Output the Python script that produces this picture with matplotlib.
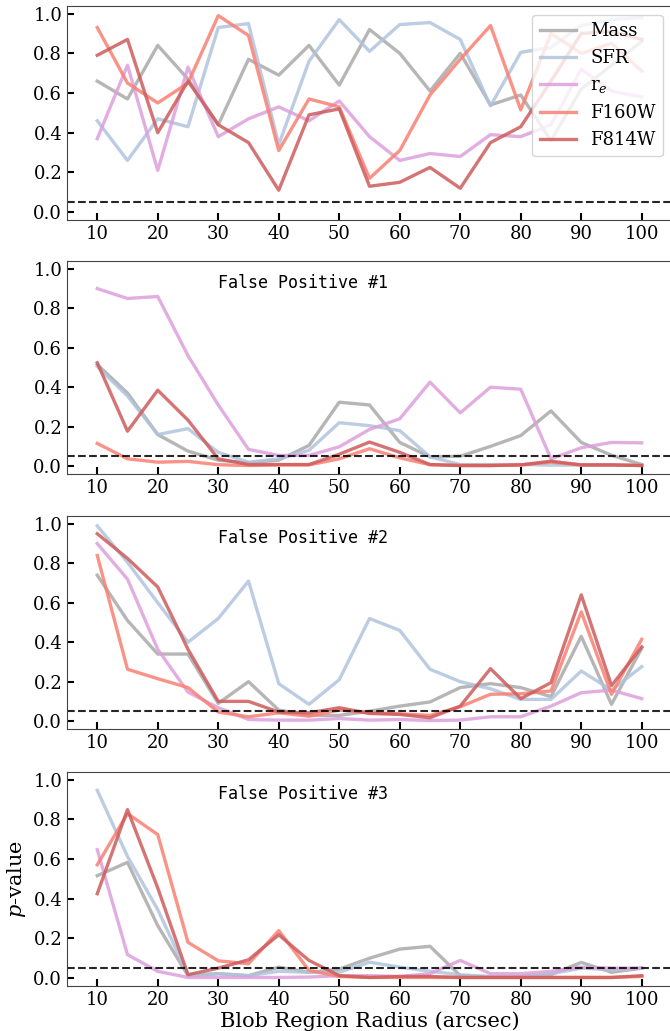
import matplotlib
matplotlib.use("Agg")
import matplotlib.pyplot as plt
import numpy as np

radius = [10, 15, 20, 25, 30, 35, 40, 45, 50, 55, 60, 65, 70, 75, 80, 85, 90, 95, 100]
labels = ["Mass", "SFR", "r$_e$", "F160W", "F814W"]
colors = ["darkgray", "lightsteelblue", "plum", "salmon", "indianred"]
titles = [None, "False Positive #1", "False Positive #2", "False Positive #3"]

p0_mass = [0.66, 0.57, 0.84, 0.67, 0.44, 0.77, 0.69, 0.84, 0.64, 0.92, 0.80, 0.61, 0.80, 0.54, 0.59, 0.36, 0.62, 0.74, 0.86]
p0_sfr = [0.46, 0.26, 0.47, 0.43, 0.93, 0.95, 0.34, 0.76, 0.97, 0.81, 0.945, 0.955, 0.87, 0.535, 0.805, 0.83, 0.94, 0.97, 0.98]
p0_re = [0.37, 0.74, 0.21, 0.73, 0.38, 0.47, 0.53, 0.46, 0.56, 0.38, 0.26, 0.295, 0.28, 0.39, 0.38, 0.44, 0.72, 0.61, 0.58]
p0_f160 = [0.93, 0.65, 0.55, 0.65, 0.99, 0.89, 0.31, 0.57, 0.53, 0.17, 0.31, 0.59, 0.77, 0.94, 0.515, 0.90, 0.80, 0.85, 0.71]
p0_f814 = [0.79, 0.87, 0.40, 0.66, 0.44, 0.35, 0.11, 0.49, 0.52, 0.13, 0.15, 0.225, 0.12, 0.35, 0.43, 0.66, 0.90, 0.91, 0.87]

p1_mass = [0.515, 0.37, 0.16, 0.076, 0.03, 0.017, 0.03, 0.105, 0.324, 0.31, 0.12, 0.047, 0.05, 0.10, 0.155, 0.28, 0.12, 0.055, 0.008]
p1_sfr = [0.505, 0.355, 0.16, 0.19, 0.07, 0.02, 0.037, 0.08, 0.22, 0.205, 0.18, 0.047, 0.008, 0.008, 0.008, 0.005, 0.005, 0.005, 0.004]
p1_re = [0.90, 0.85, 0.86, 0.56, 0.31, 0.085, 0.054, 0.054, 0.098, 0.186, 0.24, 0.426, 0.27, 0.40, 0.39, 0.037, 0.093, 0.12, 0.118]
p1_f160 = [0.115, 0.037, 0.02, 0.024, 0.007, 0.003, 0.006, 0.006, 0.037, 0.088, 0.042, 0.007, 0.003, 0.003, 0.006, 0.02, 0.006, 0.006, 0.003]
p1_f814 = [0.524, 0.177, 0.385, 0.233, 0.037, 0.008, 0.008, 0.008, 0.06, 0.122, 0.07, 0.008, 0.003, 0.003, 0.006, 0.025, 0.006, 0.006, 0.003]

p2_mass = [0.74, 0.51, 0.34, 0.34, 0.09, 0.20, 0.056, 0.029, 0.029, 0.05, 0.076, 0.097, 0.17, 0.19, 0.17, 0.124, 0.43, 0.085, 0.37]
p2_sfr = [0.99, 0.805, 0.60, 0.40, 0.52, 0.71, 0.19, 0.085, 0.21, 0.52, 0.46, 0.263, 0.20, 0.164, 0.11, 0.11, 0.254, 0.157, 0.276]
p2_re = [0.90, 0.72, 0.364, 0.147, 0.068, 0.008, 0.005, 0.005, 0.013, 0.005, 0.008, 0.003, 0.005, 0.022, 0.022, 0.076, 0.144, 0.157, 0.114]
p2_f160 = [0.84, 0.263, 0.215, 0.17, 0.046, 0.022, 0.042, 0.025, 0.056, 0.042, 0.037, 0.029, 0.073, 0.136, 0.139, 0.153, 0.554, 0.136, 0.415]
p2_f814 = [0.95, 0.825, 0.68, 0.364, 0.10, 0.10, 0.046, 0.042, 0.068, 0.039, 0.034, 0.017, 0.076, 0.266, 0.114, 0.195, 0.64, 0.18, 0.376]

p3_mass = [0.516, 0.583, 0.264, 0.012, 0.022, 0.012, 0.055, 0.029, 0.045, 0.10, 0.146, 0.16, 0.012, 0.005, 0.008, 0.017, 0.079, 0.029, 0.05]
p3_sfr = [0.946, 0.613, 0.345, 0.017, 0.022, 0.012, 0.034, 0.029, 0.029, 0.08, 0.055, 0.034, 0.017, 0.008, 0.008, 0.022, 0.05, 0.042, 0.05]
p3_re = [0.647, 0.118, 0.034, 0.003, 0.003, 0.003, 0.003, 0.005, 0.012, 0.012, 0.008, 0.022, 0.089, 0.022, 0.022, 0.034, 0.055, 0.05, 0.05]
p3_f160 = [0.571, 0.829, 0.723, 0.18, 0.087, 0.072, 0.239, 0.039, 0.008, 0.003, 0.003, 0.003, 0.003, 0.003, 0.003, 0.003, 0.003, 0.003, 0.008]
p3_f814 = [0.425, 0.849, 0.454, 0.017, 0.05, 0.092, 0.218, 0.089, 0.012, 0.003, 0.008, 0.008, 0.003, 0.003, 0.003, 0.003, 0.003, 0.003, 0.012]

panels = [
    [p0_mass, p0_sfr, p0_re, p0_f160, p0_f814],
    [p1_mass, p1_sfr, p1_re, p1_f160, p1_f814],
    [p2_mass, p2_sfr, p2_re, p2_f160, p2_f814],
    [p3_mass, p3_sfr, p3_re, p3_f160, p3_f814],
]
threshold = 0.05

plt.rcParams['font.family'] = ['DejaVu Serif']
plt.rcParams['mathtext.fontset'] = 'dejavuserif'

fig = plt.figure(figsize=(6.7, 10.31), dpi=100)
W, H = 670.0, 1031.0
tops = [5.7, 261, 516, 771.7]
bots = [220, 474, 729, 986]
left_px, right_px = 67.0, 672.0

for i, series in enumerate(panels):
    ax = fig.add_axes([left_px / W, 1 - bots[i] / H, (right_px - left_px) / W, (bots[i] - tops[i]) / H])
    for s, lab, c in zip(series, labels, colors):
        ax.plot(radius, s, color=c, lw=2.4, alpha=0.85, label=lab)
    ax.axhline(threshold, color='k', ls='--', lw=1.5, alpha=0.85)
    ax.set_xlim(5, 105)
    ax.set_ylim(-0.04, 1.04)
    ax.set_xticks(radius[::2])
    ax.set_yticks(np.arange(0, 1.01, 0.2))
    ax.yaxis.set_major_formatter(matplotlib.ticker.FormatStrFormatter('%.1f'))
    ax.tick_params(direction='in', length=5, width=1.5, labelsize=13)
    ax.spines['right'].set_visible(False)
    for sp in ax.spines.values():
        sp.set_color('#444444')
    if titles[i]:
        ax.text(30, 0.93, titles[i], family='DejaVu Sans Mono', fontsize=12, va='center', ha='left')
    if i == 0:
        ax.legend(loc='upper right', fontsize=13, framealpha=0.8, handlelength=2.0,
                  borderaxespad=0.5, labelspacing=0.5)
    if i == 3:
        ax.set_xlabel('Blob Region Radius (arcsec)', fontsize=15, labelpad=2)
        ax.set_ylabel('$p$-value', fontsize=15, labelpad=4)

fig.savefig('out.png', dpi=100)
